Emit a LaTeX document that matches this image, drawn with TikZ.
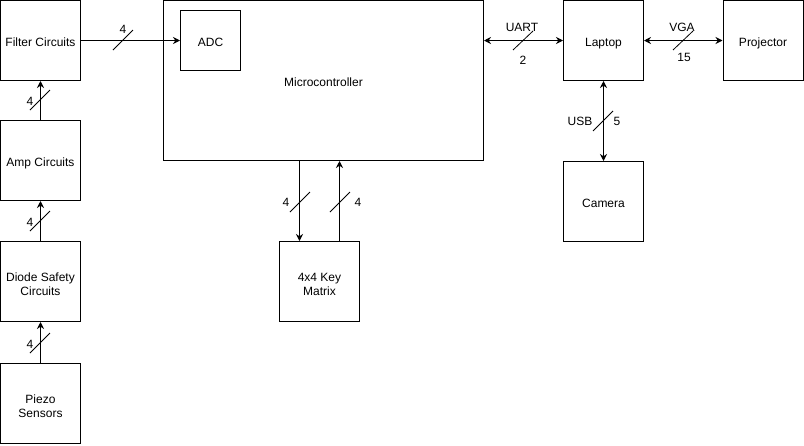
\documentclass[tikz,border=0pt]{standalone}
\usepackage{fontspec}
\setmainfont{Liberation Sans}
\usetikzlibrary{arrows.meta,positioning}

\begin{document}
\begin{tikzpicture}[x=1pt, y=-1pt,
    block/.style={rectangle, draw, line width=1pt, minimum width=80pt, minimum height=80pt, inner sep=0pt, align=center, font=\fontsize{12}{14}\selectfont, text height=11.6pt, text depth=0pt},
    twoline/.style={text height=27.6pt, text depth=0pt},
    bus/.style={line width=1pt, -{Stealth[length=7pt, width=7pt]}},
    duplex/.style={line width=1pt, {Stealth[length=7pt, width=7pt]}-{Stealth[length=7pt, width=7pt]}},
    tick/.style={line width=0.8pt},
    buslabel/.style={inner sep=0pt, font=\fontsize{12}{14}\selectfont}]

\useasboundingbox (0,0) rectangle (804,445);

% Signal chain
\node[block] (filter) at (40.5, 40.5)  {Filter Circuits};
\node[block] (amp)    at (40.5, 160.5) {Amp Circuits};
\node[block, twoline] (diode)  at (40.5, 281.5) {Diode Safety\\Circuits};
\node[block, twoline] (piezo)  at (40.5, 403.5) {Piezo\\Sensors};
% Controller
\node[block, minimum width=320pt, minimum height=160pt] (micro) at (323.5, 80.5) {Microcontroller};
\node[block, minimum width=60pt, minimum height=60pt] (adc) at (210.5, 40.5) {ADC};
\node[block, twoline] (keys) at (319.5, 281.5) {4x4 Key\\Matrix};
% Host side
\node[block] (laptop)    at (603.5, 40.5)  {Laptop};
\node[block] (projector) at (763, 40.5)    {Projector};
\node[block] (camera)    at (603.5, 201.5) {Camera};

% Connections
\draw[bus] (piezo) -- (diode);
\draw[bus] (diode) -- (amp);
\draw[bus] (amp) -- (filter);
\draw[bus] (filter) -- (adc);
\draw[bus] ([xshift=-20pt]keys.north |- micro.south) -- ([xshift=-20pt]keys.north);
\draw[bus] ([xshift=20pt]keys.north) -- ([xshift=20pt]keys.north |- micro.south);
\draw[duplex] (micro.east |- laptop) -- (laptop);
\draw[duplex] (laptop) -- (projector);
\draw[duplex] (laptop) -- (camera);

% Bus width marks
\draw[tick] (30, 353) -- (50, 333);
\draw[tick] (30, 231) -- (50, 211);
\draw[tick] (30, 110) -- (50, 90);
\draw[tick] (113, 50) -- (133, 30);
\draw[tick] (290, 212) -- (310, 192);
\draw[tick] (330, 212) -- (350, 192);
\draw[tick] (513, 50) -- (533, 31);
\draw[tick] (673, 50) -- (693, 31);
\draw[tick] (593, 131) -- (613, 111);

\node[buslabel] (w1) at (30, 344)  {4};
\node[buslabel] (w2) at (30, 222)  {4};
\node[buslabel] (w3) at (30, 101)  {4};
\node[buslabel] (w4) at (123, 29)  {4};
\node[buslabel] (w5) at (286, 202) {4};
\node[buslabel] (w6) at (358, 202) {4};
\node[buslabel] (uart)  at (522, 27)  {UART};
\node[buslabel] (uartn) at (523, 60)  {2};
\node[buslabel] (vga)   at (682, 27)  {VGA};
\node[buslabel] (vgan)  at (684, 57)  {15};
\node[buslabel] (usb)   at (580, 121) {USB};
\node[buslabel] (usbn)  at (617, 121) {5};

\end{tikzpicture}
\end{document}
